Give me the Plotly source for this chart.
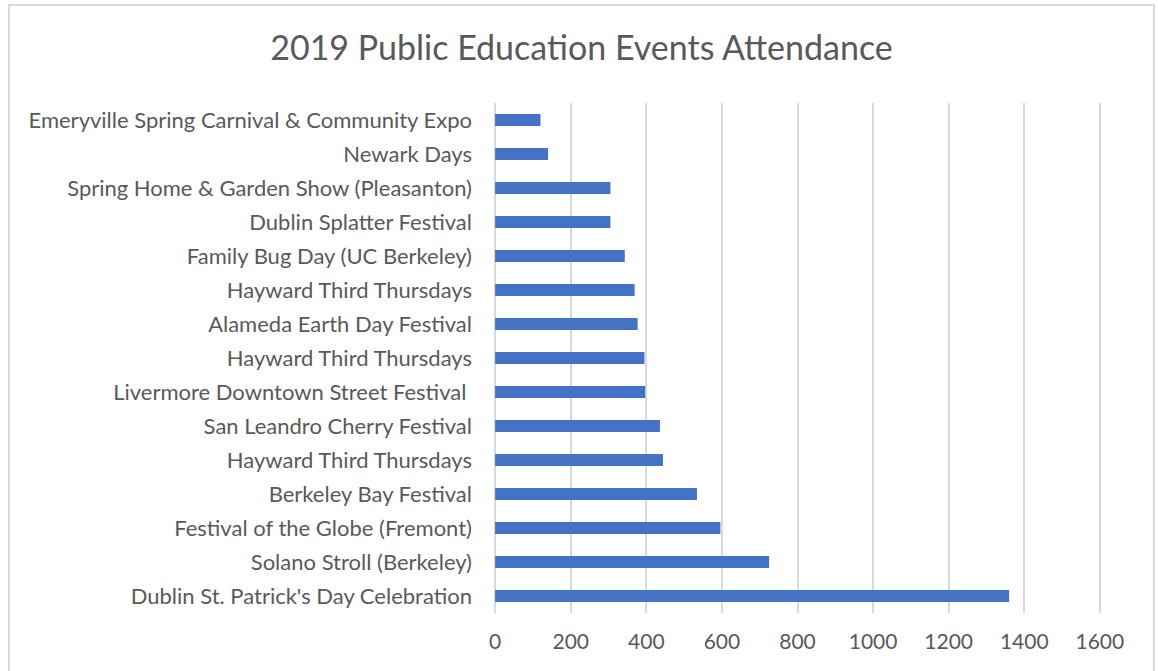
import plotly.graph_objects as go

events = [
    "Dublin St. Patrick's Day Celebration",
    "Solano Stroll (Berkeley)",
    "Festival of the Globe (Fremont)",
    "Berkeley Bay Festival",
    "Hayward Third Thursdays",
    "San Leandro Cherry Festival",
    "Livermore Downtown Street Festival ",
    "Hayward Third Thursdays",
    "Alameda Earth Day Festival",
    "Hayward Third Thursdays",
    "Family Bug Day (UC Berkeley)",
    "Dublin Splatter Festival",
    "Spring Home & Garden Show (Pleasanton)",
    "Newark Days",
    "Emeryville Spring Carnival & Community Expo",
]
attendance = [1360, 725, 596, 534, 444, 436, 397, 395, 377, 369, 343, 305, 305, 140, 120]
x_ticks = [0, 200, 400, 600, 800, 1000, 1200, 1400, 1600]

positions = list(range(len(events)))

W, H = 1158, 671
L, R, T, B = 494, 1101, 103, 613
pw, ph = R - L, B - T

fig = go.Figure(go.Bar(
    x=attendance,
    y=positions,
    orientation="h",
    marker=dict(color="#4472C4", line=dict(width=0)),
    width=0.36,
    hoverinfo="x+text",
    text=events,
    textposition="none",
))

fig.update_layout(
    width=W, height=H,
    margin=dict(l=L, r=W - R, t=T, b=H - B, pad=0),
    paper_bgcolor="white",
    plot_bgcolor="white",
    font=dict(family="Lato, Open Sans, sans-serif", color="#595959", size=22),
    title=dict(
        text="2019 Public Education Events Attendance",
        x=581.5 / W, xref="container", xanchor="center",
        y=1 - 48 / H, yref="container", yanchor="middle",
        font=dict(size=34, color="#595959"),
    ),
    showlegend=False,
    xaxis=dict(
        range=[-3, 1603],
        tickvals=x_ticks,
        showgrid=True, gridcolor="#d9d9d9", gridwidth=1.5,
        zeroline=False, showline=False,
        ticks="", ticklabelstandoff=14,
        tickfont=dict(size=21, color="#595959"),
    ),
    yaxis=dict(
        range=[-0.5, len(events) - 0.5],
        tickvals=positions,
        ticktext=events,
        showgrid=False, zeroline=False, showline=False,
        ticks="", ticklabelstandoff=21,
        tickfont=dict(size=22, color="#595959"),
    ),
    shapes=[dict(
        type="rect", xref="paper", yref="paper",
        x0=(9 - L) / pw, x1=(1154 - L) / pw,
        y0=(B - 690) / ph, y1=(B - 5) / ph,
        line=dict(color="#d9d9d9", width=2),
        fillcolor="rgba(0,0,0,0)",
        layer="below",
    )],
)

fig.write_html(
    "out.html",
    config={"displayModeBar": False},
    post_script="document.body.style.margin='0px';",
)
